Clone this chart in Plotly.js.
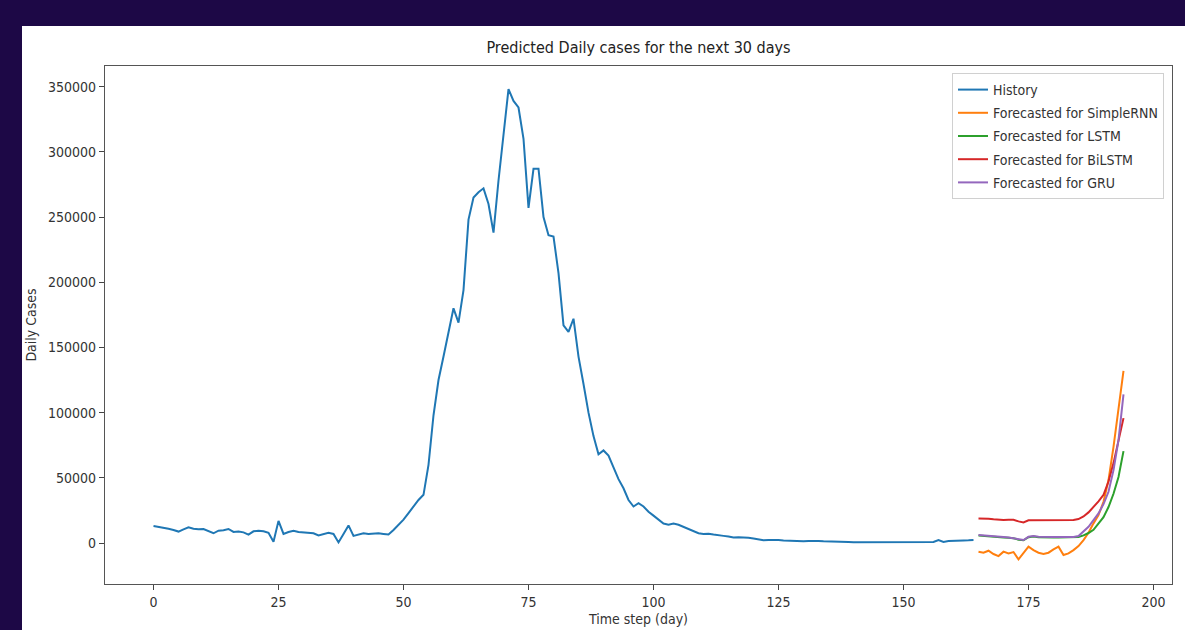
<!DOCTYPE html>
<html>
<head>
<meta charset="utf-8">
<script src="https://cdn.plot.ly/plotly-3.0.1.min.js"></script>
<style>
  html, body { margin: 0; padding: 0; background: #1d0846; width: 1185px; height: 630px; overflow: hidden; }
  #chart { position: absolute; left: 22px; top: 26px; width: 1163px; height: 604px; background: #ffffff; }
</style>
</head>
<body>
<div id="chart"></div>
<script>
// ---- data ----
const historyDays = Array.from({length: 165}, (_, i) => i);
const historyCases = [
  13000, 12500, 12000, 11000, 10000, 8800, 10500, 12000, 11000, 10500,
  10700, 9000, 7500, 9500, 9800, 10800, 8500, 8800, 8200, 6500,
  9000, 9500, 9000, 7800, 1000, 17000, 7000, 8500, 9500, 8500,
  8000, 7800, 7500, 5800, 7000, 7800, 7000, 500, 7000, 13500,
  5500, 6500, 7500, 7000, 7500, 7500, 7000, 6500, 10000, 14000,
  18000, 23000, 28000, 33000, 37000, 60000, 98000, 125000, 143000, 162000,
  180000, 169000, 194000, 248000, 265000, 269000, 272000, 260000, 238000, 278000,
  313000, 348000, 339000, 334000, 310000, 257000, 287000, 287000, 250000, 236000,
  235000, 207000, 167000, 162000, 172000, 143000, 122000, 100000, 82000, 68000,
  71000, 67000, 58000, 49000, 42000, 33000, 28000, 30500, 28000, 24000,
  21000, 18000, 15000, 14000, 15000, 14000, 12500, 11000, 9500, 7500,
  7000, 7200, 6500, 5800, 5500, 5000, 4200, 4400, 4300, 4000,
  3500, 3000, 2200, 2300, 2500, 2300, 2000, 1800, 1600, 1200,
  1300, 1500, 1800, 1600, 1300, 1100, 1000, 900, 800, 800,
  700, 700, 600, 600, 600, 600, 700, 600, 600, 600,
  600, 700, 700, 800, 800, 800, 800, 2300, 900, 1500,
  1800, 1900, 2000, 2100, 2300
];

const forecastDays = Array.from({length: 30}, (_, i) => 165 + i);
const simpleRnnCases = [
  -6600, -7400, -5900, -8400, -10000, -6600, -7900, -6900, -12500, -7900,
  -2800, -5400, -7400, -8400, -7400, -4900, -2800, -9200, -7900, -5400,
  -2300, 2300, 7900, 15100, 21400, 31600, 48300, 73800, 101900, 132000
];
const lstmCases = [
  5800, 5600, 5300, 4800, 4500, 4300, 4000, 3600, 2600, 2100,
  4500, 5100, 4500, 4300, 4300, 4300, 4300, 4300, 4300, 4400,
  4600, 5900, 7700, 10200, 14800, 19900, 27600, 37800, 50600, 70500
];
const bilstmCases = [
  18900, 18900, 18700, 18200, 17900, 17600, 17900, 17900, 16600, 15800,
  17400, 17400, 17300, 17400, 17400, 17400, 17400, 17500, 17500, 17600,
  18400, 20400, 23500, 27300, 31900, 37000, 47200, 61300, 77900, 95800
];
const gruCases = [
  6100, 5900, 5600, 5100, 4800, 4600, 4300, 3800, 2800, 2300,
  4800, 5400, 4800, 4600, 4600, 4600, 4600, 4600, 4600, 4700,
  5400, 8700, 12500, 17600, 22700, 29900, 39300, 55900, 78900, 114000
];

const seriesNames = ["History", "Forecasted for SimpleRNN", "Forecasted for LSTM", "Forecasted for BiLSTM", "Forecasted for GRU"];
const seriesColors = ["#1f77b4", "#ff7f0e", "#2ca02c", "#d62728", "#9467bd"];
const xTickVals = [0, 25, 50, 75, 100, 125, 150, 175, 200];
const yTickVals = [0, 50000, 100000, 150000, 200000, 250000, 300000, 350000];

const chartTitle = "Predicted Daily cases for the next 30 days";
const xTitle = "Time step (day)";
const yTitle = "Daily Cases";

// ---- traces ----
const xs = [historyDays, forecastDays, forecastDays, forecastDays, forecastDays];
const ys = [historyCases, simpleRnnCases, lstmCases, bilstmCases, gruCases];
const traces = ys.map((y, i) => ({
  type: "scatter",
  mode: "lines",
  x: xs[i],
  y: y,
  name: seriesNames[i],
  legendgroup: "g" + i,
  line: {color: seriesColors[i], width: 2}
}));

const FONT = "DejaVu Sans Condensed, Liberation Sans Narrow, Roboto Condensed, Roboto, sans-serif";

const layout = {
  width: 1163,
  height: 604,
  margin: {l: 83, r: 13, t: 40, b: 46, pad: 0},
  paper_bgcolor: "#ffffff",
  plot_bgcolor: "#ffffff",
  font: {family: FONT, color: "#333333", size: 14},
  title: {
    text: chartTitle,
    x: 0.5, xref: "paper", xanchor: "center",
    y: 1 - 21 / 604, yref: "container", yanchor: "middle",
    font: {family: FONT, size: 16, color: "#222222"}
  },
  showlegend: true,
  legend: {
    x: 0.9925, xanchor: "right",
    y: 0.9865, yanchor: "top",
    bgcolor: "rgba(255,255,255,0.8)",
    bordercolor: "#d0d0d0",
    borderwidth: 1,
    font: {family: FONT, size: 14, color: "#333333"},
    traceorder: "grouped",
    tracegroupgap: 2,
    itemwidth: 30
  },
  xaxis: {
    range: [-9.7, 203.7],
    tickmode: "array",
    tickvals: xTickVals,
    ticks: "outside", ticklen: 5, tickwidth: 1, tickcolor: "#444444",
    showgrid: false, zeroline: false,
    showline: true, linecolor: "#555555", linewidth: 1.2, mirror: true,
    tickfont: {family: FONT, size: 14, color: "#333333"},
    title: {text: xTitle, standoff: 5, font: {family: FONT, size: 14, color: "#333333"}}
  },
  yaxis: {
    range: [-31400, 365800],
    tickmode: "array",
    tickvals: yTickVals,
    tickformat: "d",
    ticks: "outside", ticklen: 5, tickwidth: 1, tickcolor: "#444444",
    showgrid: false, zeroline: false,
    showline: true, linecolor: "#555555", linewidth: 1.2, mirror: true,
    tickfont: {family: FONT, size: 14, color: "#333333"},
    title: {text: yTitle, standoff: 8, font: {family: FONT, size: 14, color: "#333333"}}
  }
};

Plotly.newPlot("chart", traces, layout, {displayModeBar: false, staticPlot: true});
</script>
</body>
</html>
